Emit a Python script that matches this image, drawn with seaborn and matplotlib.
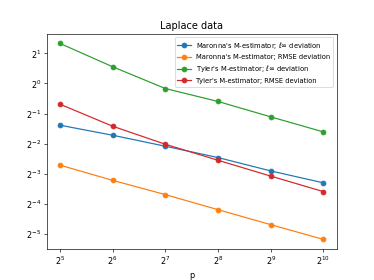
import matplotlib
matplotlib.use('Agg')
import matplotlib.pyplot as plt
import seaborn as sns

# dimension p and the errors
p = [32, 64, 128, 256, 512, 1024]
maronna_linf = [0.382, 0.303, 0.235, 0.181, 0.133, 0.101]
maronna_rmse = [0.152, 0.107, 0.077, 0.0544, 0.0385, 0.0274]
tyler_linf = [2.52, 1.47, 0.89, 0.66, 0.463, 0.327]
tyler_rmse = [0.62, 0.373, 0.246, 0.170, 0.118, 0.0825]

labels = [
    r"Maronna's M-estimator; $\ell\infty$ deviation",
    "Maronna's M-estimator; RMSE deviation",
    r"Tyler's M-estimator; $\ell\infty$ deviation",
    "Tyler's M-estimator; RMSE deviation",
]
series = [maronna_linf, maronna_rmse, tyler_linf, tyler_rmse]
colors = ['tab:blue', 'tab:orange', 'tab:green', 'tab:red']

dpi = 374 / 6.4
fig, ax = plt.subplots(figsize=(6.4, 280 / dpi))
for vals, lab, c in zip(series, labels, colors):
    sns.lineplot(x=p, y=vals, label=lab, color=c, marker='o',
                 markersize=6, markeredgecolor=c, markeredgewidth=1, ax=ax)

ax.set_xscale('log', base=2)
ax.set_yscale('log', base=2)
ax.set_title('Laplace data')
ax.set_xlabel('p')
ax.legend(loc='upper right', fontsize='small')

plt.savefig('out.png', dpi=dpi)
